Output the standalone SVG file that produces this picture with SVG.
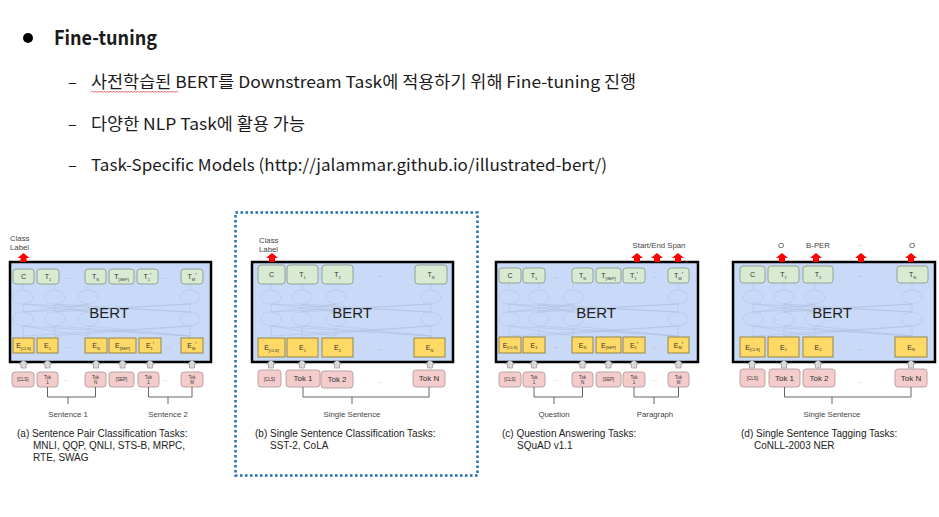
<svg xmlns="http://www.w3.org/2000/svg" width="939" height="517" viewBox="0 0 939 517">
  <defs>
    <style>
      .ko { font-family: "Noto Sans CJK KR", "Liberation Sans", sans-serif; fill: #1a1a1a; }
      .g { font-family: "Liberation Sans", Arial, sans-serif; }
      .bert { fill: #c9daf8; stroke: #000; stroke-width: 2.5; }
      .t { fill: #d9ead3; stroke: #8d9c88; stroke-width: 0.9; }
      .e { fill: #ffd966; stroke: #8f7d3c; stroke-width: 0.9; }
      .k { fill: #f4cccc; stroke: #b49c9c; stroke-width: 0.9; }
      .bl { font-size: 7px; fill: #333; text-anchor: middle; }
      .sm { font-size: 4.5px; fill: #333; text-anchor: middle; }
      .tk { font-size: 8px; fill: #333; text-anchor: middle; }
      .dots { font-size: 6px; fill: #999; text-anchor: middle; }
      .big { font-size: 15px; fill: #222; text-anchor: middle; }
      .lab { font-size: 7.8px; fill: #444; }
      .cap { font-size: 10px; fill: #222; }
      .mesh { fill: none; stroke: #adbedc; stroke-width: 0.5; }
      .cell { fill: none; stroke: #b6c6e4; stroke-width: 0.7; }
      .br { fill: none; stroke: #666; stroke-width: 1; }
    </style>
    <path id="ga" d="M-4.5 4L0 0L4.5 4H2.5V8H-2.5V4Z" fill="#d9d9d9" stroke="#a0a0a0" stroke-width="0.8"/>
    <path id="ra" d="M-6 5L0 0L6 5H3V9H-3V5Z" fill="#ff0000"/>
  </defs>

  <rect width="939" height="517" fill="#ffffff"/>

  <!-- slide text -->
  <g id="heading">
    <circle cx="28" cy="38" r="5" fill="#000"/>
    <text class="ko" x="54" y="45" font-size="20" font-weight="bold" textLength="103" lengthAdjust="spacingAndGlyphs">Fine-tuning</text>
  </g>
  <g id="bullets" class="ko" font-size="16.5">
    <text x="68" y="88">–</text>
    <text x="91" y="88" textLength="545" lengthAdjust="spacingAndGlyphs">사전학습된 BERT를 Downstream Task에 적용하기 위해 Fine-tuning 진행</text>
    <path d="M91 92.5l1.5-1.5l1.5 1.5l1.5-1.5l1.5 1.5l1.5-1.5l1.5 1.5l1.5-1.5l1.5 1.5l1.5-1.5l1.5 1.5l1.5-1.5l1.5 1.5l1.5-1.5l1.5 1.5l1.5-1.5l1.5 1.5l1.5-1.5l1.5 1.5l1.5-1.5l1.5 1.5l1.5-1.5l1.5 1.5l1.5-1.5l1.5 1.5l1.5-1.5l1.5 1.5l1.5-1.5l1.5 1.5l1.5-1.5l1.5 1.5l1.5-1.5l1.5 1.5l1.5-1.5l1.5 1.5l1.5-1.5l1.5 1.5l1.5-1.5l1.5 1.5l1.5-1.5l1.5 1.5l1.5-1.5l1.5 1.5l1.5-1.5l1.5 1.5l1.5-1.5l1.5 1.5l1.5-1.5l1.5 1.5l1.5-1.5l1.5 1.5l1.5-1.5l1.5 1.5l1.5-1.5l1.5 1.5l1.5-1.5l1.5 1.5l1.5-1.5l1.5 1.5" fill="none" stroke="#e02020" stroke-width="0.7"/>
    <text x="68" y="130">–</text>
    <text x="91" y="130" textLength="214" lengthAdjust="spacingAndGlyphs">다양한 NLP Task에 활용 가능</text>
    <text x="68" y="171">–</text>
    <text x="91" y="171" textLength="516" lengthAdjust="spacingAndGlyphs">Task-Specific Models (http://jalammar.github.io/illustrated-bert/)</text>
  </g>

  <!-- highlight frame round panel (b) -->
  <rect x="235.5" y="212.5" width="242" height="263" fill="none" stroke="#1f6db2" stroke-width="2.5" stroke-dasharray="2.5 2.5"/>

  <!-- (a) sentence pair classification -->
  <g id="panel-a" class="g">
    <text class="lab" x="10" y="241">Class</text>
    <text class="lab" x="10" y="250">Label</text>
    <rect class="bert" x="10" y="262" width="201" height="100"/>
    <use href="#ra" x="23.5" y="253"/>
    <g class="mesh-a">
      <path class="mesh" d="M23 284V290M55 284V290M88 284V290M190 284V290M23 304V312M55 304V312M88 304V312M190 304V312M23 326V338M55 326V338M88 326V338M190 326V338M23 304L190 312M190 304L23 312M55 304L190 312M190 304L55 312M88 304L23 312M23 304L88 312M55 304L88 312M88 304L55 312M23 326L190 336M190 326L23 336M55 326L190 336M190 326L55 336M88 326L190 336M23 326L88 336"/>
      <ellipse class="cell" cx="23" cy="297" rx="10" ry="7"/><ellipse class="cell" cx="55" cy="297" rx="10" ry="7"/><ellipse class="cell" cx="88" cy="297" rx="10" ry="7"/><ellipse class="cell" cx="190" cy="297" rx="10" ry="7"/>
      <ellipse class="cell" cx="23" cy="319" rx="10" ry="7"/><ellipse class="cell" cx="55" cy="319" rx="10" ry="7"/><ellipse class="cell" cx="88" cy="319" rx="10" ry="7"/><ellipse class="cell" cx="190" cy="319" rx="10" ry="7"/>
      <text class="dots" x="137" y="303" fill-opacity="0.5">...</text><text class="dots" x="137" y="325" fill-opacity="0.5">...</text>
    </g>
    <text class="big" x="109" y="318">BERT</text>
    <!-- output row -->
    <rect class="t" x="13" y="269" width="21" height="15" rx="3"/><text class="bl" x="23.5" y="279">C</text>
    <rect class="t" x="37" y="269" width="22" height="15" rx="3"/><text class="bl" x="48" y="279">T<tspan font-size="4" dy="1.5">1</tspan></text>
    <text class="dots" x="67" y="279">...</text>
    <rect class="t" x="85" y="269" width="21" height="15" rx="3"/><text class="bl" x="95.5" y="279">T<tspan font-size="4" dy="1.5">N</tspan></text>
    <rect class="t" x="109" y="269" width="25" height="15" rx="3"/><text class="bl" x="121.5" y="279">T<tspan font-size="4" dy="1.5">[SEP]</tspan></text>
    <rect class="t" x="137" y="269" width="21" height="15" rx="3"/><text class="bl" x="147.5" y="279">T<tspan font-size="4" dy="1.5">1</tspan><tspan dy="-2.5">'</tspan></text>
    <text class="dots" x="165" y="279">...</text>
    <rect class="t" x="181" y="269" width="22" height="15" rx="3"/><text class="bl" x="192" y="279">T<tspan font-size="4" dy="1.5">M</tspan><tspan dy="-2.5">'</tspan></text>
    <!-- embedding row -->
    <rect class="e" x="13" y="338" width="21" height="15"/><text class="bl" x="23.5" y="348">E<tspan font-size="4" dy="1.5">[CLS]</tspan></text>
    <rect class="e" x="37" y="338" width="21" height="15"/><text class="bl" x="47.5" y="348">E<tspan font-size="4" dy="1.5">1</tspan></text>
    <text class="dots" x="67" y="348">...</text>
    <rect class="e" x="85" y="338" width="22" height="15"/><text class="bl" x="96" y="348">E<tspan font-size="4" dy="1.5">N</tspan></text>
    <rect class="e" x="109" y="338" width="27" height="15"/><text class="bl" x="122.5" y="348">E<tspan font-size="4" dy="1.5">[SEP]</tspan></text>
    <rect class="e" x="139" y="338" width="22" height="15"/><text class="bl" x="150" y="348">E<tspan font-size="4" dy="1.5">1</tspan><tspan dy="-2.5">'</tspan></text>
    <text class="dots" x="168" y="348">...</text>
    <rect class="e" x="181" y="338" width="22" height="15"/><text class="bl" x="192" y="348">E<tspan font-size="4" dy="1.5">M</tspan><tspan dy="-2.5">'</tspan></text>
    <use href="#ga" x="23.5" y="360"/><use href="#ga" x="47.5" y="360"/><use href="#ga" x="96" y="360"/><use href="#ga" x="122.5" y="360"/><use href="#ga" x="150" y="360"/><use href="#ga" x="192" y="360"/>
    <!-- input tokens -->
    <rect class="k" x="12" y="372" width="22" height="15" rx="3"/><text class="sm" x="23" y="381">[CLS]</text>
    <rect class="k" x="37" y="372" width="21" height="15" rx="3"/><text class="sm" x="47.5" y="378.5">Tok</text><text class="sm" x="47.5" y="384">1</text>
    <text class="dots" x="66" y="381">...</text>
    <rect class="k" x="85" y="372" width="21" height="15" rx="3"/><text class="sm" x="95.5" y="378.5">Tok</text><text class="sm" x="95.5" y="384">N</text>
    <rect class="k" x="109" y="372" width="25" height="15" rx="3"/><text class="sm" x="121.5" y="381">[SEP]</text>
    <rect class="k" x="138" y="372" width="21" height="15" rx="3"/><text class="sm" x="148.5" y="378.5">Tok</text><text class="sm" x="148.5" y="384">1</text>
    <text class="dots" x="165" y="381">...</text>
    <rect class="k" x="181" y="372" width="22" height="15" rx="3"/><text class="sm" x="192" y="378.5">Tok</text><text class="sm" x="192" y="384">M</text>
    <path class="br" d="M47.5 387V397H95.5V387M68 397V404M148.5 387V397H192V387M168 397V404"/>
    <text class="lab" x="68" y="417" text-anchor="middle">Sentence 1</text>
    <text class="lab" x="168" y="417" text-anchor="middle">Sentence 2</text>
    <text class="cap" x="17" y="437">(a) Sentence Pair Classification Tasks:</text>
    <text class="cap" x="33" y="449">MNLI, QQP, QNLI, STS-B, MRPC,</text>
    <text class="cap" x="33" y="461">RTE, SWAG</text>
  </g>

  <!-- (b) single sentence classification -->
  <g id="panel-b" class="g">
    <text class="lab" x="259" y="243">Class</text>
    <text class="lab" x="259" y="252">Label</text>
    <rect class="bert" x="252" y="262" width="201" height="100"/>
    <use href="#ra" x="272" y="253"/>
    <g class="mesh-b">
      <path class="mesh" d="M271 284V290M302 284V290M336 284V290M431 284V290M271 304V312M302 304V312M336 304V312M431 304V312M271 326V338M302 326V338M336 326V338M431 326V338M271 304L431 312M431 304L271 312M302 304L431 312M431 304L302 312M336 304L271 312M271 304L336 312M302 304L336 312M336 304L302 312M271 326L431 336M431 326L271 336M302 326L431 336M431 326L302 336M336 326L431 336M271 326L336 336"/>
      <ellipse class="cell" cx="271" cy="297" rx="10" ry="7"/><ellipse class="cell" cx="302" cy="297" rx="10" ry="7"/><ellipse class="cell" cx="336" cy="297" rx="10" ry="7"/><ellipse class="cell" cx="431" cy="297" rx="10" ry="7"/>
      <ellipse class="cell" cx="271" cy="319" rx="10" ry="7"/><ellipse class="cell" cx="302" cy="319" rx="10" ry="7"/><ellipse class="cell" cx="336" cy="319" rx="10" ry="7"/><ellipse class="cell" cx="431" cy="319" rx="10" ry="7"/>
      <text class="dots" x="380" y="303" fill-opacity="0.5">...</text><text class="dots" x="380" y="325" fill-opacity="0.5">...</text>
    </g>
    <text class="big" x="352" y="318">BERT</text>
    <rect class="t" x="258" y="265" width="27" height="19" rx="3"/><text class="bl" x="271.5" y="277">C</text>
    <rect class="t" x="287" y="265" width="31" height="19" rx="3"/><text class="bl" x="302.5" y="277">T<tspan font-size="4" dy="1.5">1</tspan></text>
    <rect class="t" x="322" y="265" width="31" height="19" rx="3"/><text class="bl" x="337.5" y="277">T<tspan font-size="4" dy="1.5">2</tspan></text>
    <text class="dots" x="380" y="277">...</text>
    <rect class="t" x="415" y="265" width="32" height="19" rx="3"/><text class="bl" x="431" y="277">T<tspan font-size="4" dy="1.5">N</tspan></text>
    <rect class="e" x="258" y="338" width="27" height="19"/><text class="bl" x="271.5" y="350">E<tspan font-size="4" dy="1.5">[CLS]</tspan></text>
    <rect class="e" x="287" y="338" width="31" height="19"/><text class="bl" x="302.5" y="350">E<tspan font-size="4" dy="1.5">1</tspan></text>
    <rect class="e" x="322" y="338" width="31" height="19"/><text class="bl" x="337.5" y="350">E<tspan font-size="4" dy="1.5">2</tspan></text>
    <text class="dots" x="380" y="350">...</text>
    <rect class="e" x="414" y="338" width="31" height="19"/><text class="bl" x="429.5" y="350">E<tspan font-size="4" dy="1.5">N</tspan></text>
    <use href="#ga" x="271" y="360"/><use href="#ga" x="302" y="360"/><use href="#ga" x="337" y="360"/><use href="#ga" x="430" y="360"/>
    <rect class="k" x="258" y="370" width="23" height="17" rx="3"/><text class="sm" x="269.5" y="380.5" font-size="5.5">[CLS]</text>
    <rect class="k" x="286" y="370" width="34" height="17" rx="3"/><text class="tk" x="303" y="381">Tok 1</text>
    <rect class="k" x="321" y="371" width="32" height="17" rx="3"/><text class="tk" x="337" y="382">Tok 2</text>
    <text class="dots" x="380" y="383">...</text>
    <rect class="k" x="413" y="370" width="32" height="17" rx="3"/><text class="tk" x="429" y="381">Tok N</text>
    <path class="br" d="M303 387V397H429V387M352 397V404"/>
    <text class="lab" x="352" y="417" text-anchor="middle">Single Sentence</text>
    <text class="cap" x="255" y="437">(b) Single Sentence Classification Tasks:</text>
    <text class="cap" x="270" y="449">SST-2, CoLA</text>
  </g>

  <!-- (c) question answering -->
  <g id="panel-c" class="g">
    <text class="lab" x="659" y="248" text-anchor="middle">Start/End Span</text>
    <rect class="bert" x="496" y="262" width="202" height="100"/>
    <use href="#ra" x="637" y="253"/><use href="#ra" x="657" y="253"/><use href="#ra" x="678" y="253"/>
    <g class="mesh-c">
      <path class="mesh" d="M509 283V290M539 283V290M573 283V290M678 283V290M509 304V312M539 304V312M573 304V312M678 304V312M509 326V337M539 326V337M573 326V337M678 326V337M509 304L678 312M678 304L509 312M539 304L678 312M678 304L539 312M573 304L509 312M509 304L573 312M539 304L573 312M573 304L539 312M509 326L678 336M678 326L509 336M539 326L678 336M678 326L539 336M573 326L678 336M509 326L573 336"/>
      <ellipse class="cell" cx="509" cy="297" rx="10" ry="7"/><ellipse class="cell" cx="539" cy="297" rx="10" ry="7"/><ellipse class="cell" cx="573" cy="297" rx="10" ry="7"/><ellipse class="cell" cx="678" cy="297" rx="10" ry="7"/>
      <ellipse class="cell" cx="509" cy="319" rx="10" ry="7"/><ellipse class="cell" cx="539" cy="319" rx="10" ry="7"/><ellipse class="cell" cx="573" cy="319" rx="10" ry="7"/><ellipse class="cell" cx="678" cy="319" rx="10" ry="7"/>
      <text class="dots" x="622" y="303" fill-opacity="0.5">...</text><text class="dots" x="622" y="325" fill-opacity="0.5">...</text>
    </g>
    <text class="big" x="596" y="318">BERT</text>
    <rect class="t" x="499" y="268" width="22" height="15" rx="3"/><text class="bl" x="510" y="278">C</text>
    <rect class="t" x="523" y="268" width="22" height="15" rx="3"/><text class="bl" x="534" y="278">T<tspan font-size="4" dy="1.5">1</tspan></text>
    <text class="dots" x="556" y="278">...</text>
    <rect class="t" x="572" y="268" width="21" height="15" rx="3"/><text class="bl" x="582.5" y="278">T<tspan font-size="4" dy="1.5">N</tspan></text>
    <rect class="t" x="596" y="268" width="25" height="15" rx="3"/><text class="bl" x="608.5" y="278">T<tspan font-size="4" dy="1.5">[SEP]</tspan></text>
    <rect class="t" x="623" y="268" width="22" height="15" rx="3"/><text class="bl" x="634" y="278">T<tspan font-size="4" dy="1.5">1</tspan><tspan dy="-2.5">'</tspan></text>
    <text class="dots" x="655" y="278">...</text>
    <rect class="t" x="668" y="268" width="21" height="15" rx="3"/><text class="bl" x="678.5" y="278">T<tspan font-size="4" dy="1.5">M</tspan><tspan dy="-2.5">'</tspan></text>
    <rect class="e" x="499" y="337" width="22" height="16"/><text class="bl" x="510" y="347.5">E<tspan font-size="4" dy="1.5">[CLS]</tspan></text>
    <rect class="e" x="523" y="337" width="22" height="16"/><text class="bl" x="534" y="347.5">E<tspan font-size="4" dy="1.5">1</tspan></text>
    <text class="dots" x="556" y="347.5">...</text>
    <rect class="e" x="572" y="337" width="21" height="16"/><text class="bl" x="582.5" y="347.5">E<tspan font-size="4" dy="1.5">N</tspan></text>
    <rect class="e" x="596" y="337" width="25" height="16"/><text class="bl" x="608.5" y="347.5">E<tspan font-size="4" dy="1.5">[SEP]</tspan></text>
    <rect class="e" x="623" y="337" width="22" height="16"/><text class="bl" x="634" y="347.5">E<tspan font-size="4" dy="1.5">1</tspan><tspan dy="-2.5">'</tspan></text>
    <text class="dots" x="655" y="347.5">...</text>
    <rect class="e" x="668" y="337" width="21" height="16"/><text class="bl" x="678.5" y="347.5">E<tspan font-size="4" dy="1.5">M</tspan><tspan dy="-2.5">'</tspan></text>
    <use href="#ga" x="510" y="360"/><use href="#ga" x="534" y="360"/><use href="#ga" x="582.5" y="360"/><use href="#ga" x="608.5" y="360"/><use href="#ga" x="634" y="360"/><use href="#ga" x="678.5" y="360"/>
    <rect class="k" x="499" y="372" width="22" height="15" rx="3"/><text class="sm" x="510" y="381">[CLS]</text>
    <rect class="k" x="523" y="372" width="22" height="15" rx="3"/><text class="sm" x="534" y="378.5">Tok</text><text class="sm" x="534" y="384">1</text>
    <text class="dots" x="556" y="381">...</text>
    <rect class="k" x="572" y="372" width="21" height="15" rx="3"/><text class="sm" x="582.5" y="378.5">Tok</text><text class="sm" x="582.5" y="384">N</text>
    <rect class="k" x="596" y="372" width="25" height="15" rx="3"/><text class="sm" x="608.5" y="381">[SEP]</text>
    <rect class="k" x="623" y="372" width="22" height="15" rx="3"/><text class="sm" x="634" y="378.5">Tok</text><text class="sm" x="634" y="384">1</text>
    <text class="dots" x="655" y="381">...</text>
    <rect class="k" x="668" y="372" width="21" height="15" rx="3"/><text class="sm" x="678.5" y="378.5">Tok</text><text class="sm" x="678.5" y="384">M</text>
    <path class="br" d="M534 387V397H582.5V387M554 397V404M634 387V397H678.5V387M654 397V404"/>
    <text class="lab" x="554" y="417" text-anchor="middle">Question</text>
    <text class="lab" x="655" y="417" text-anchor="middle">Paragraph</text>
    <text class="cap" x="502" y="437">(c) Question Answering Tasks:</text>
    <text class="cap" x="517" y="449">SQuAD v1.1</text>
  </g>

  <!-- (d) single sentence tagging -->
  <g id="panel-d" class="g">
    <text class="lab" x="781" y="248" text-anchor="middle">O</text>
    <text class="lab" x="818" y="248" text-anchor="middle">B-PER</text>
    <text class="dots" x="860" y="246">...</text>
    <text class="lab" x="912" y="248" text-anchor="middle">O</text>
    <rect class="bert" x="733" y="262" width="202" height="100"/>
    <use href="#ra" x="782" y="253"/><use href="#ra" x="816" y="253"/><use href="#ra" x="861" y="253"/><use href="#ra" x="911" y="253"/>
    <g class="mesh-d">
      <path class="mesh" d="M753 283V290M784 283V290M815 283V290M912 283V290M753 304V312M784 304V312M815 304V312M912 304V312M753 326V337M784 326V337M815 326V337M912 326V337M753 304L912 312M912 304L753 312M784 304L912 312M912 304L784 312M815 304L753 312M753 304L815 312M784 304L815 312M815 304L784 312M753 326L912 336M912 326L753 336M784 326L912 336M912 326L784 336M815 326L912 336M753 326L815 336"/>
      <ellipse class="cell" cx="753" cy="297" rx="10" ry="7"/><ellipse class="cell" cx="784" cy="297" rx="10" ry="7"/><ellipse class="cell" cx="815" cy="297" rx="10" ry="7"/><ellipse class="cell" cx="912" cy="297" rx="10" ry="7"/>
      <ellipse class="cell" cx="753" cy="319" rx="10" ry="7"/><ellipse class="cell" cx="784" cy="319" rx="10" ry="7"/><ellipse class="cell" cx="815" cy="319" rx="10" ry="7"/><ellipse class="cell" cx="912" cy="319" rx="10" ry="7"/>
      <text class="dots" x="860" y="303" fill-opacity="0.5">...</text><text class="dots" x="860" y="325" fill-opacity="0.5">...</text>
    </g>
    <text class="big" x="832" y="318">BERT</text>
    <rect class="t" x="740" y="266" width="25" height="17" rx="3"/><text class="bl" x="752.5" y="277">C</text>
    <rect class="t" x="768" y="266" width="31" height="17" rx="3"/><text class="bl" x="783.5" y="277">T<tspan font-size="4" dy="1.5">1</tspan></text>
    <rect class="t" x="803" y="266" width="30" height="17" rx="3"/><text class="bl" x="818" y="277">T<tspan font-size="4" dy="1.5">2</tspan></text>
    <text class="dots" x="860" y="277">...</text>
    <rect class="t" x="897" y="266" width="31" height="17" rx="3"/><text class="bl" x="912.5" y="277">T<tspan font-size="4" dy="1.5">N</tspan></text>
    <rect class="e" x="740" y="337" width="25" height="20"/><text class="bl" x="752.5" y="349.5">E<tspan font-size="4" dy="1.5">[CLS]</tspan></text>
    <rect class="e" x="768" y="337" width="31" height="20"/><text class="bl" x="783.5" y="349.5">E<tspan font-size="4" dy="1.5">1</tspan></text>
    <rect class="e" x="803" y="337" width="30" height="20"/><text class="bl" x="818" y="349.5">E<tspan font-size="4" dy="1.5">2</tspan></text>
    <text class="dots" x="860" y="349.5">...</text>
    <rect class="e" x="895" y="337" width="32" height="20"/><text class="bl" x="911" y="349.5">E<tspan font-size="4" dy="1.5">N</tspan></text>
    <use href="#ga" x="752" y="360"/><use href="#ga" x="784" y="360"/><use href="#ga" x="818" y="360"/><use href="#ga" x="911" y="360"/>
    <rect class="k" x="740" y="369" width="25" height="18" rx="3"/><text class="sm" x="752.5" y="380" font-size="5.5">[CLS]</text>
    <rect class="k" x="769" y="369" width="31" height="18" rx="3"/><text class="tk" x="784.5" y="381">Tok 1</text>
    <rect class="k" x="803" y="369" width="32" height="18" rx="3"/><text class="tk" x="819" y="381">Tok 2</text>
    <text class="dots" x="860" y="383">...</text>
    <rect class="k" x="895" y="369" width="32" height="18" rx="3"/><text class="tk" x="911" y="381">Tok N</text>
    <path class="br" d="M784.5 387V397H911V387M832 397V404"/>
    <text class="lab" x="832" y="417" text-anchor="middle">Single Sentence</text>
    <text class="cap" x="741" y="437">(d) Single Sentence Tagging Tasks:</text>
    <text class="cap" x="754" y="449">CoNLL-2003 NER</text>
  </g>
</svg>
